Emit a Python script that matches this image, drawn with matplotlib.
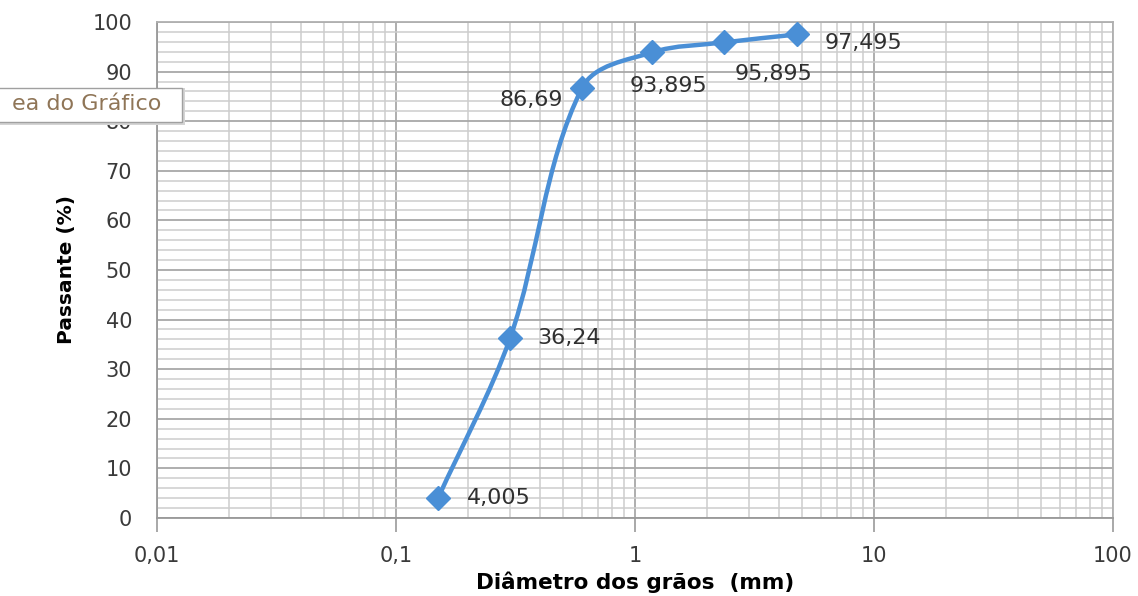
import numpy as np
import matplotlib
matplotlib.use("Agg")
import matplotlib.pyplot as plt
from matplotlib.path import Path
from matplotlib.patches import PathPatch, Rectangle
from matplotlib.ticker import FixedLocator, FixedFormatter, LogLocator, MultipleLocator, NullFormatter

# ---- data ----
diameters = [0.15, 0.3, 0.6, 1.18, 2.36, 4.75]
passing = [4.005, 36.24, 86.69, 93.895, 95.895, 97.495]
point_labels = ["4,005", "36,24", "86,69", "93,895", "95,895", "97,495"]
x_ticks = [0.01, 0.1, 1, 10, 100]
x_tick_labels = ["0,01", "0,1", "1", "10", "100"]
y_ticks = [0, 10, 20, 30, 40, 50, 60, 70, 80, 90, 100]

# label offsets in pixels (dx, dy, ha)
label_offsets = [(29, 0, "left"), (27, 0, "left"), (-19, -12, "right"),
                 (16, -34, "center"), (49, -32, "center"), (28, -9, "left")]

BLUE = "#4a8fd6"

plt.rcParams["font.family"] = "DejaVu Sans"

fig = plt.figure(figsize=(11.38, 5.96), dpi=100)
ax = fig.add_axes([0.138, 0.131, 0.840, 0.832])
ax.set_xscale("log")
ax.set_xlim(0.01, 100)
ax.set_ylim(0, 100)

# grid
ax.xaxis.set_major_locator(FixedLocator(x_ticks))
ax.xaxis.set_major_formatter(FixedFormatter(x_tick_labels))
ax.xaxis.set_minor_locator(LogLocator(base=10, subs=np.arange(2, 10)))
ax.xaxis.set_minor_formatter(NullFormatter())
ax.yaxis.set_major_locator(FixedLocator(y_ticks))
ax.yaxis.set_minor_locator(MultipleLocator(2))
ax.grid(True, which="major", color="#a8a8a8", lw=1.3)
ax.grid(True, which="minor", color="#cdcdcd", lw=1.1)
ax.set_axisbelow(True)

ax.tick_params(axis="x", which="major", length=10, width=1.2, color="#999999",
               pad=10, labelsize=15, labelcolor="#3a3a3a")
ax.tick_params(axis="x", which="minor", length=0)
ax.tick_params(axis="y", which="both", length=0, pad=18, labelsize=15,
               labelcolor="#3a3a3a")
for side in ["left", "bottom"]:
    ax.spines[side].set_color("#999999")
    ax.spines[side].set_linewidth(1.3)
for side in ["top", "right"]:
    ax.spines[side].set_color("#b0b0b0")
    ax.spines[side].set_linewidth(1.3)

# smoothed line: bezier through the points in pixel-like space (log x),
# control arms scaled by the adjacent segment length to avoid overshoot
u = np.log10(diameters)
v = np.array(passing, dtype=float)
sx = 956 / 4.0         # px per unit of log10
sy = 496 / 100.0       # px per unit of y
P = np.column_stack([u * sx, v * sy])
n = len(P)
tang = []
for i in range(n):
    a = P[max(i - 1, 0)]
    b = P[min(i + 1, n - 1)]
    t = b - a
    tang.append(t / np.linalg.norm(t))
verts = [(diameters[0], passing[0])]
codes = [Path.CURVE4 * 0 + Path.MOVETO]
for i in range(n - 1):
    d = np.linalg.norm(P[i + 1] - P[i])
    c1 = P[i] + tang[i] * d / 3
    c2 = P[i + 1] - tang[i + 1] * d / 3
    verts += [(10 ** (c1[0] / sx), c1[1] / sy), (10 ** (c2[0] / sx), c2[1] / sy),
              (diameters[i + 1], passing[i + 1])]
    codes += [Path.CURVE4] * 3
ax.add_patch(PathPatch(Path(verts, codes), facecolor="none", edgecolor=BLUE,
                       lw=3.2, capstyle="round", joinstyle="round", zorder=3))
ax.plot(diameters, passing, ls="none", marker="D", ms=12, color=BLUE,
        mec=BLUE, zorder=4)

for xd, yd, lab, (dx, dy, ha) in zip(diameters, passing, point_labels, label_offsets):
    ax.annotate(lab, (xd, yd), xytext=(dx, dy), textcoords="offset pixels",
                ha=ha, va="center", fontsize=16, color="#303030", zorder=5)

ax.set_ylabel("Passante (%)", fontsize=14.5, fontweight="bold", labelpad=12)
ax.set_xlabel("Diâmetro dos grãos  (mm)", fontsize=15.5, fontweight="bold", labelpad=4)

# tooltip remnant at the left
fig.patches.append(Rectangle((-0.01, 1 - 125 / 596), 196 / 1138, 37 / 596,
                             transform=fig.transFigure, facecolor="#d4d4d4",
                             edgecolor="none", zorder=9))
fig.patches.append(Rectangle((-0.01, 1 - 122 / 596), 193 / 1138, 34 / 596,
                             transform=fig.transFigure, facecolor="white",
                             edgecolor="#a0a0a0", lw=1.0, zorder=10))
fig.text(12 / 1138, 1 - 104 / 596, "ea do Gráfico", fontsize=16,
         color="#8f7557", ha="left", va="center", zorder=11)

fig.savefig("out.png", dpi=100)
